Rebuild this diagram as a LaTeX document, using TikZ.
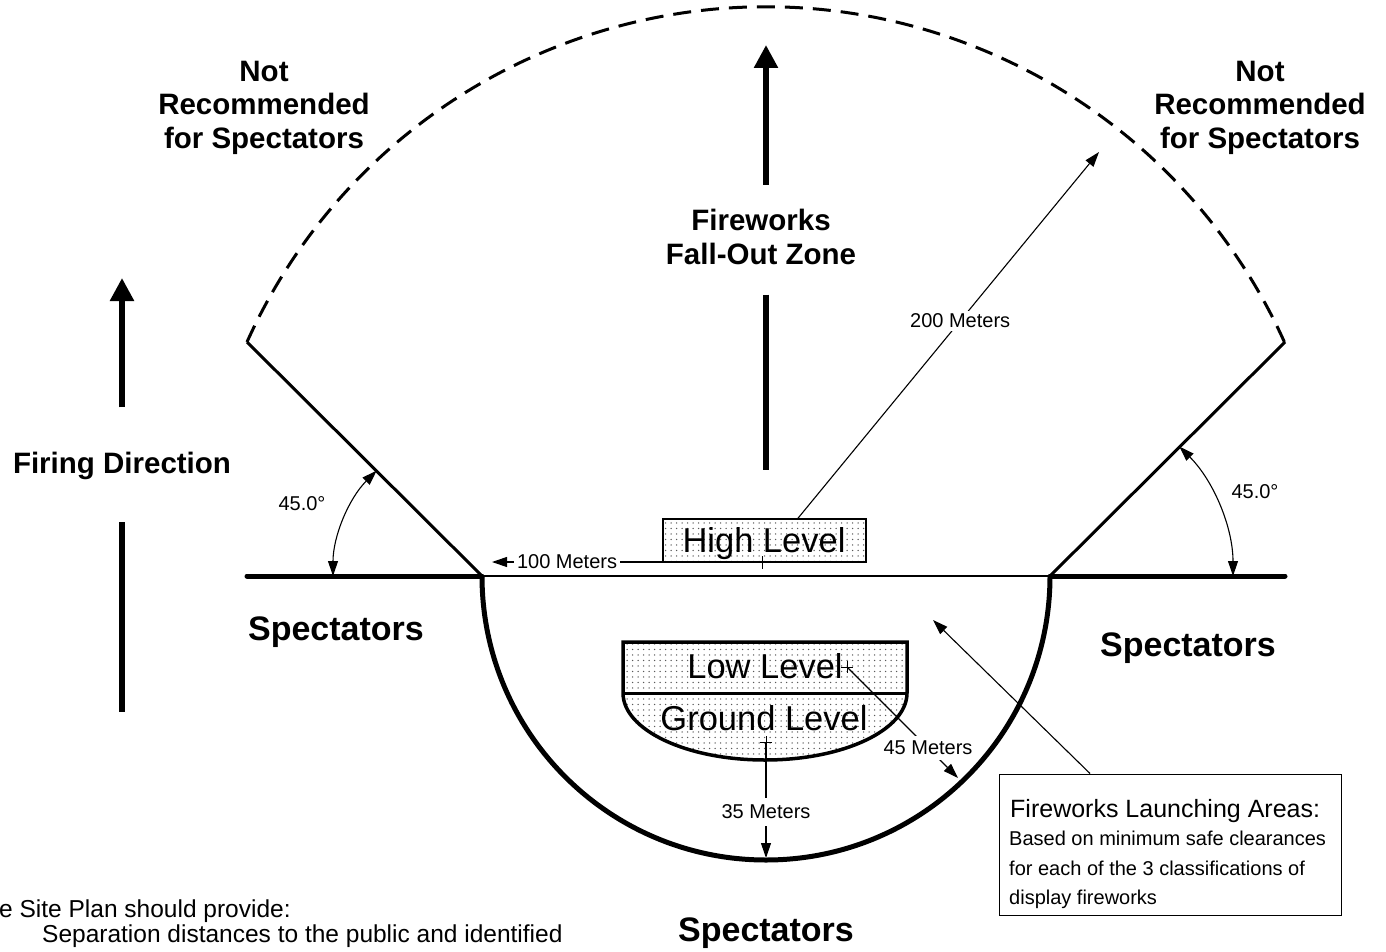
\documentclass[tikz,border=0pt]{standalone}
\usepackage{fontspec}
\setmainfont{Liberation Sans}
\usetikzlibrary{arrows.meta,patterns.meta}

\tikzset{
  heading/.style={font=\fontsize{29.5}{33.5}\selectfont\bfseries, align=center, inner sep=0pt},
  crowd/.style={font=\fontsize{34}{40}\selectfont\bfseries, inner sep=0pt},
  levelword/.style={font=\fontsize{34.5}{40}\selectfont, inner sep=0pt},
  measure/.style={font=\fontsize{20}{24}\selectfont, fill=white, inner sep=3pt},
  levelfill/.style={preaction={fill=white}, pattern={Dots[distance=5.5pt,radius=0.75pt]}, pattern color=black!65},
  bigarrow/.style={line width=5.5pt, -{Triangle[length=23pt,width=23pt]}},
  bigline/.style={line width=5.5pt},
  dimarrow/.style={line width=1.1pt, -{Triangle[length=15pt,width=10pt]}},
  anglearrow/.style={line width=1.1pt, {Triangle[length=15pt,width=10pt]}-{Triangle[length=15pt,width=10pt]}},
}

\begin{document}
\begin{tikzpicture}[x=1pt,y=-1pt]
  \useasboundingbox (0,0) rectangle (1386,952);

  % base line, corners and fall-out zone
  \coordinate (wl) at (247,576);
  \coordinate (cl) at (482,576);
  \coordinate (cr) at (1050,576);
  \coordinate (wr) at (1285,576);
  \coordinate (tl) at (247,342);
  \coordinate (tr) at (1285,342);
  \draw[line width=5pt, line cap=round] (wl) -- (cl) (cr) -- (wr);
  \draw[line width=2.5pt] (cl) -- (cr);
  \draw[line width=3pt] (cl) -- (tl) (cr) -- (tr);
  \draw[line width=3pt, dash pattern=on 18pt off 10pt]
    (tl) arc[start angle=-155.73, end angle=-24.27, radius=569];
  \draw[line width=5pt] (cl) arc[start angle=180, end angle=0, radius=284];

  % 45 degree marks
  \draw[anglearrow] (333,576) arc[start angle=180, end angle=225, radius=149];
  \draw[anglearrow] (1233,576) arc[start angle=0, end angle=-45, radius=183];
  \node[font=\fontsize{20}{24}\selectfont] (angl) at (302,504) {45.0\textdegree};
  \node[font=\fontsize{20}{24}\selectfont] (angr) at (1255,492) {45.0\textdegree};

  % headings
  \node[heading, anchor=north] (notl) at (264,61) {Not\\Recommended\\for Spectators};
  \node[heading, anchor=north] (notr) at (1260,61) {Not\\Recommended\\for Spectators};
  \node[heading, anchor=north] (zone) at (761,209) {Fireworks\\Fall-Out Zone};
  \node[heading, anchor=base] (firing) at (122,473) {Firing Direction};
  \node[crowd, anchor=base] (crowdl) at (336,640) {Spectators};
  \node[crowd, anchor=base] (crowdr) at (1188,656) {Spectators};
  \node[crowd, anchor=base] (crowdb) at (766,941) {Spectators};

  % direction arrows
  \coordinate (zonetip) at (766,45);
  \coordinate (zonetail) at (766,470);
  \coordinate (firetip) at (122,278);
  \coordinate (firetail) at (122,712);
  \draw[bigarrow] ([xshift=5pt,yshift=24pt]zone.north) -- (zonetip);
  \draw[bigline] ([xshift=5pt,yshift=-30pt]zone.south) -- (zonetail);
  \draw[bigarrow] ([yshift=58pt]firing.center) -- (firetip);
  \draw[bigline] ([yshift=-57pt]firing.center) -- (firetail);

  % high level
  \coordinate (highmark) at (762,562);
  \coordinate (tip200) at (1099,152);
  \coordinate (tip100) at (492,562);
  \draw[dimarrow] (highmark) -- (tip200) node[measure, pos=0.588] (m200) {200 Meters};
  \draw[dimarrow] (highmark) -- (tip100) node[measure, pos=0.722] (m100) {100 Meters};
  \node[draw, line width=1.5pt, levelfill, minimum width=203pt, minimum height=43pt, inner sep=0pt]
    (highbox) at (764.5,540.5) {};
  \node[levelword, anchor=base] (high) at (764,552) {High Level};
  \draw[line width=0.8pt] (highmark) +(0,-6) -- +(0,7);

  % low and ground level
  \draw[line width=3.5pt, levelfill] (623,693) -- (623,642) -- (907,642) -- (907,693)
    arc[start angle=0, end angle=180, x radius=142, y radius=67] -- cycle;
  \draw[line width=3pt] (623,693) -- (907,693);
  \node[levelword, anchor=base] (low) at (765,678) {Low Level};
  \node[levelword, anchor=base] (ground) at (764,730) {Ground Level};
  \coordinate (lowmark) at (847,667);
  \coordinate (groundmark) at (766,742);
  \coordinate (tip45) at (958,778);
  \coordinate (tip35) at (766,858);
  \draw[line width=0.8pt] (lowmark) +(-6,0) -- +(6,0) +(0,-6) -- +(0,6)
    (groundmark) +(-6,0) -- +(6,0) +(0,-6) -- +(0,6);
  \draw[dimarrow] (lowmark) -- (tip45) node[measure, inner sep=5pt, pos=0.73] (m45) {45 Meters};
  \draw[dimarrow] (groundmark) -- (tip35) node[measure, inner sep=7pt, pos=0.603] (m35) {35 Meters};

  % launching areas note
  \node[draw, line width=1pt, minimum width=342pt, minimum height=141pt, inner sep=0pt]
    (launch) at (1170,844.5) {};
  \coordinate (launchtip) at (933,620);
  \draw[dimarrow] ([xshift=-80pt]launch.north) -- (launchtip);
  \node[font=\fontsize{25}{30}\selectfont, anchor=base west, inner sep=0pt]
    (launchtitle) at (1010,817) {Fireworks Launching Areas:};
  \foreach \txt [count=\i] in {{Based on minimum safe clearances},
      {for each of the 3 classifications of},{display fireworks}}
    \node[font=\fontsize{20}{24}\selectfont, anchor=base west, inner sep=0pt]
      (launchline\i) at (1009,816.5+29.4*\i) {\txt};

  % site plan text (cut by the page)
  \node[font=\fontsize{24.5}{28}\selectfont, anchor=base west, inner sep=0pt]
    (plan) at (-1,917) {e Site Plan should provide:};
  \node[font=\fontsize{24.5}{28}\selectfont, anchor=base west, inner sep=0pt]
    (planitem) at (42,942) {Separation distances to the public and identified};
\end{tikzpicture}
\end{document}
